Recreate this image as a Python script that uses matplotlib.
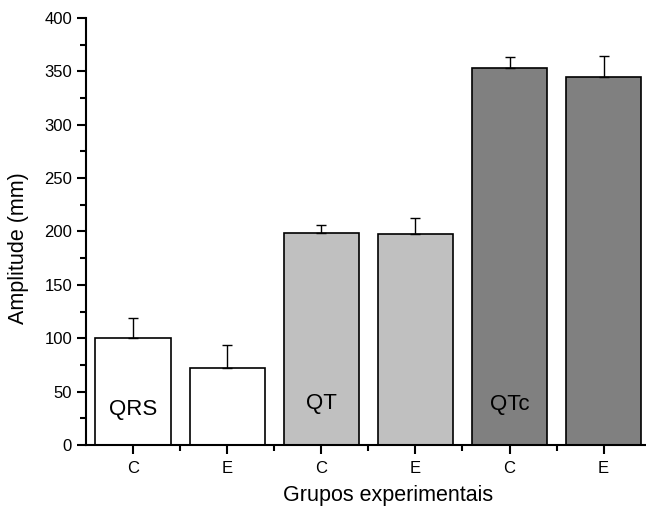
import numpy as np
import matplotlib.pyplot as plt
from matplotlib.ticker import MultipleLocator, FixedLocator

plt.rcParams['font.family'] = ['Liberation Sans', 'DejaVu Sans']

# data
groups = ['C', 'E', 'C', 'E', 'C', 'E']
amplitude = [100, 72, 199, 198, 353, 345]
errors = [19, 22, 7, 15, 10, 19]
bar_colors = ['white', 'white', '#c0c0c0', '#c0c0c0', '#808080', '#808080']
labels = ['QRS', 'QT', 'QTc']
label_pos = [1, 3, 5]
label_y = [33, 39, 38]

fig = plt.figure(figsize=(6.46, 5.09), dpi=100)
ax = fig.add_axes([86 / 646, 1 - 445 / 509, 1 - 86 / 646, 427 / 509])

x = np.arange(1, len(amplitude) + 1)
ax.bar(x, amplitude, width=0.8, color=bar_colors, edgecolor='black', linewidth=1.2,
       yerr=[np.zeros(len(errors)), errors],
       error_kw=dict(ecolor='black', elinewidth=1, capsize=3.6, capthick=1))

for lab, px, py in zip(labels, label_pos, label_y):
    ax.text(px, py, lab, ha='center', va='center', fontsize=16)

ax.set_xlim(0.5, 6.45)
ax.set_ylim(0, 400)
ax.set_xticks(x)
ax.set_xticklabels(groups)
ax.xaxis.set_minor_locator(FixedLocator(np.arange(1.5, 6.5, 1)))
ax.yaxis.set_major_locator(MultipleLocator(50))
ax.yaxis.set_minor_locator(MultipleLocator(25))

for s in ['top', 'right']:
    ax.spines[s].set_visible(False)
for s in ['left', 'bottom']:
    ax.spines[s].set_linewidth(1.5)

ax.tick_params(which='major', direction='out', length=6.5, width=1.5, labelsize=12)
ax.tick_params(axis='x', which='major', pad=5)
ax.tick_params(which='minor', direction='out', length=4, width=1.5)

ax.set_xlabel('Grupos experimentais', fontsize=15.5)
ax.set_ylabel('Amplitude (mm)', fontsize=15.5)
ax.xaxis.set_label_coords(0.539, -0.093)
ax.yaxis.set_label_coords(-0.102, 0.461)

fig.savefig('out.png', dpi=100)
